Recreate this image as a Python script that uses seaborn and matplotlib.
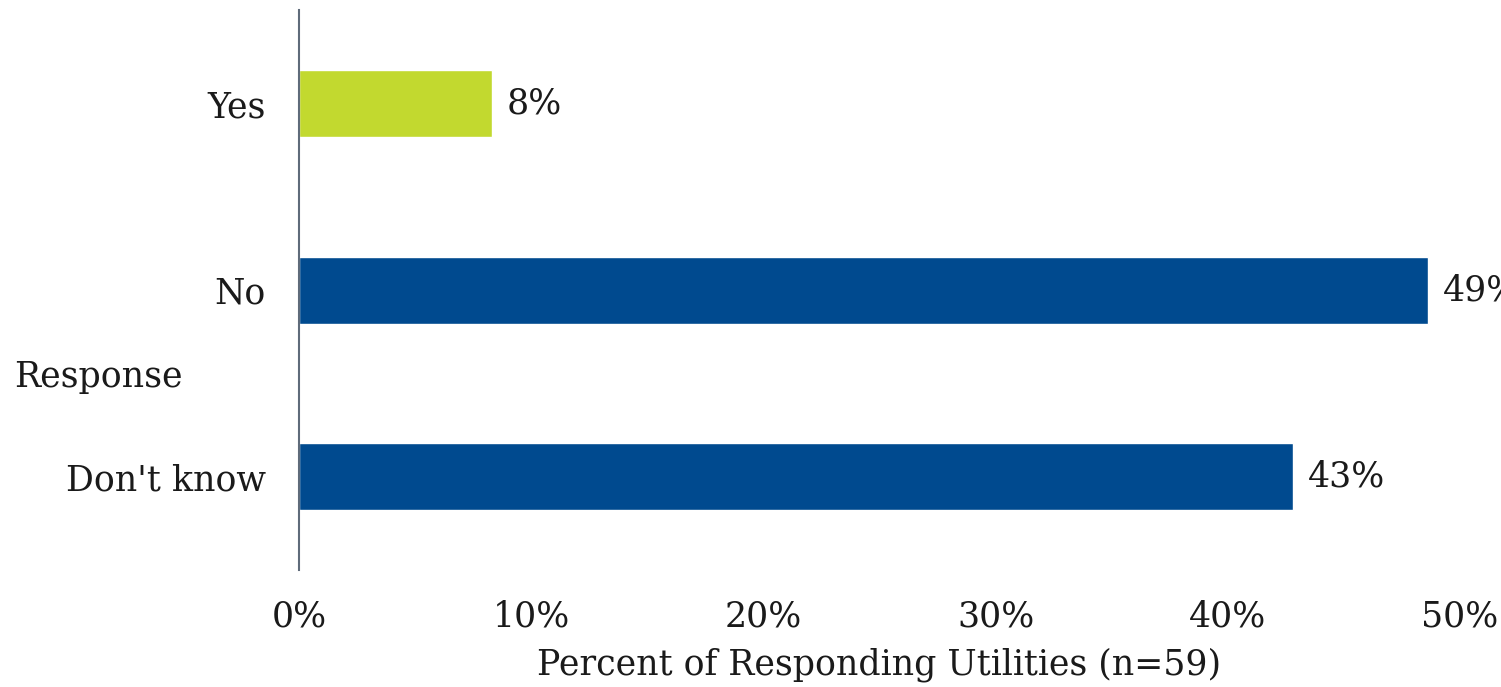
import matplotlib
matplotlib.use("Agg")
import matplotlib.pyplot as plt
import seaborn as sns
import pandas as pd
from matplotlib.ticker import FuncFormatter

categories = ["Yes", "No", "Don't know"]
values = [8.3, 48.6, 42.8]
value_labels = ["8%", "49%", "43%"]
bar_colors = ["#C2D92F", "#004A8F", "#004A8F"]
x_ticks = [0, 10, 20, 30, 40, 50]

sns.set_theme(style="white")
plt.rcParams['font.family'] = ['DejaVu Serif']

df = pd.DataFrame({"Response": categories, "Percent": values})

fig = plt.figure(figsize=(15.01, 6.87), dpi=100)
ax = fig.add_axes([0.1992, 0.170, 0.7735, 0.815])

sns.barplot(data=df, x="Percent", y="Response", hue="Response",
            palette=dict(zip(categories, bar_colors)), order=categories,
            width=0.36, legend=False, ax=ax, saturation=1)

ax.set_xlim(0, 50)
ax.set_ylim(2.5, -0.5)
ax.set_xticks(x_ticks)
ax.xaxis.set_major_formatter(FuncFormatter(lambda v, p: f"{int(v)}%"))

for s in ["top", "right", "bottom"]:
    ax.spines[s].set_visible(False)
ax.spines["left"].set_color("#5f6b7a")
ax.spines["left"].set_linewidth(1.5)

fs = 25
tc = "#1a1a1a"
ax.tick_params(axis="y", length=0, pad=24, labelsize=fs, labelcolor=tc)
ax.tick_params(axis="x", length=0, pad=21, labelsize=fs, labelcolor=tc)

for bar, lab in zip(ax.patches, value_labels):
    w = bar.get_width()
    y = bar.get_y() + bar.get_height() / 2
    ax.annotate(lab, (w, y), xytext=(11, 0), textcoords="offset points",
                va="center", ha="left", fontsize=fs, color=tc,
                annotation_clip=False)

ax.set_xlabel("Percent of Responding Utilities (n=59)", fontsize=fs,
              color=tc, labelpad=10)
ax.set_ylabel("Response", fontsize=fs, color=tc, rotation=0,
              ha="left", va="center")
ax.yaxis.set_label_coords(-0.245, 0.345)

fig.savefig("out.png", dpi=100)
